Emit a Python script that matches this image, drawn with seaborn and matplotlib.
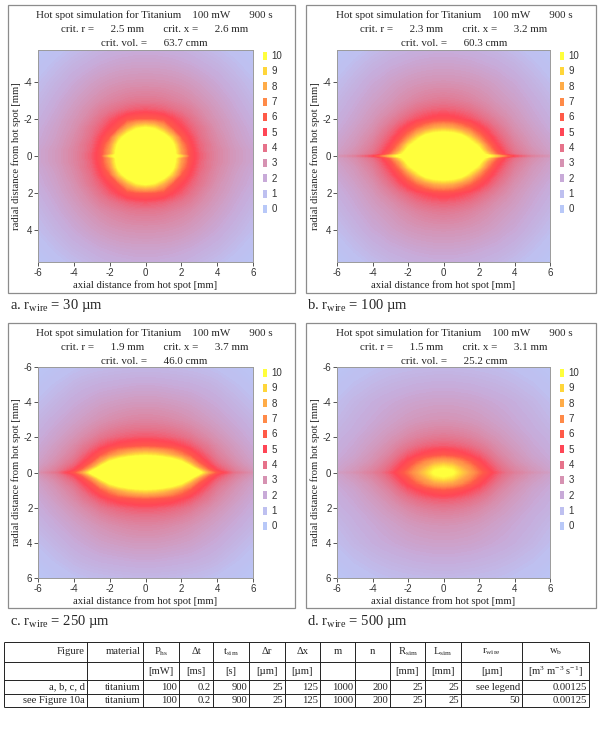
import numpy as np
import matplotlib
matplotlib.use('Agg')
import matplotlib.pyplot as plt
from matplotlib.patches import Patch, Rectangle
import seaborn as sns

sns.set_style('white')
plt.rcParams['font.family'] = ['Liberation Serif', 'DejaVu Serif']
plt.rcParams['mathtext.fontset'] = 'custom'
plt.rcParams['mathtext.rm'] = 'Liberation Serif'
plt.rcParams['mathtext.it'] = 'Liberation Serif:italic'
plt.rcParams['mathtext.default'] = 'rm'
plt.rcParams['axes.unicode_minus'] = False

W, H = 600, 750

# quarter grid (axial x, radial r) in mm, mirrored for the full picture
X_MM = [0, 0.5, 1, 1.5, 2, 2.5, 3, 3.5, 4, 5, 6]
R_MM = [0, 0.1, 0.3, 0.6, 1, 1.5, 2, 2.5, 3, 4, 5, 6]

# estimated level (0..10, saturates above 10); rows = R_MM, cols = X_MM
FIELD_A = [
    [14.0, 13.6, 12.8, 11.0, 9.0, 5.4, 4.5, 3.9, 3.4, 2.7, 2.2],
    [14.0, 13.6, 12.8, 11.0, 7.6, 5.4, 4.5, 3.9, 3.4, 2.7, 2.2],
    [13.8, 13.5, 12.7, 10.9, 7.5, 5.4, 4.4, 3.8, 3.4, 2.7, 2.2],
    [13.4, 13.1, 12.2, 10.4, 7.0, 5.2, 4.3, 3.8, 3.3, 2.6, 2.1],
    [12.6, 12.2, 11.2, 8.8, 6.0, 4.9, 4.1, 3.6, 3.2, 2.5, 2.0],
    [10.2, 9.6, 8.0, 6.0, 5.1, 4.4, 3.9, 3.45, 3.0, 2.4, 1.9],
    [6.0, 5.9, 5.6, 5.0, 4.5, 4.0, 3.55, 3.15, 2.85, 2.25, 1.75],
    [4.6, 4.5, 4.35, 4.1, 3.85, 3.6, 3.25, 2.95, 2.65, 2.1, 1.6],
    [3.8, 3.78, 3.7, 3.55, 3.4, 3.2, 2.95, 2.7, 2.45, 1.95, 1.45],
    [3.0, 2.98, 2.95, 2.88, 2.78, 2.63, 2.45, 2.25, 2.05, 1.6, 1.15],
    [2.35, 2.35, 2.3, 2.25, 2.15, 2.05, 1.9, 1.75, 1.6, 1.2, 0.8],
    [1.8, 1.8, 1.75, 1.7, 1.65, 1.55, 1.4, 1.25, 1.1, 0.8, 0.5],
]
FIELD_B = [
    [15.0, 14.8, 14.0, 13.0, 12.0, 10.5, 8.5, 6.3, 4.8, 3.5, 2.8],
    [14.9, 14.6, 13.8, 12.6, 11.2, 9.0, 6.3, 4.8, 4.0, 3.1, 2.5],
    [14.5, 14.2, 13.3, 12.0, 10.5, 7.6, 5.5, 4.5, 3.8, 3.0, 2.4],
    [13.6, 13.3, 12.4, 11.0, 9.2, 6.5, 5.0, 4.2, 3.6, 2.8, 2.3],
    [12.0, 11.7, 10.8, 9.0, 6.9, 5.4, 4.5, 3.9, 3.35, 2.65, 2.15],
    [8.3, 8.0, 7.2, 6.3, 5.3, 4.6, 4.0, 3.5, 3.05, 2.45, 1.95],
    [5.4, 5.3, 5.0, 4.7, 4.3, 3.9, 3.5, 3.15, 2.8, 2.25, 1.8],
    [4.4, 4.35, 4.2, 4.0, 3.7, 3.4, 3.1, 2.85, 2.6, 2.1, 1.65],
    [3.75, 3.7, 3.6, 3.45, 3.25, 3.05, 2.8, 2.6, 2.4, 1.95, 1.5],
    [2.95, 2.92, 2.88, 2.8, 2.7, 2.55, 2.4, 2.2, 2.05, 1.6, 1.15],
    [2.3, 2.3, 2.25, 2.2, 2.1, 2.0, 1.9, 1.75, 1.6, 1.2, 0.8],
    [1.75, 1.75, 1.7, 1.65, 1.6, 1.5, 1.4, 1.25, 1.1, 0.8, 0.5],
]
FIELD_C = [
    [15.0, 15.0, 14.6, 14.0, 13.0, 12.0, 10.6, 7.6, 5.6, 3.9, 3.0],
    [14.9, 14.9, 14.5, 13.8, 12.7, 11.5, 9.6, 6.6, 5.0, 3.6, 2.8],
    [14.3, 14.2, 13.8, 13.0, 11.8, 10.3, 7.4, 5.5, 4.5, 3.4, 2.6],
    [12.8, 12.7, 12.2, 11.3, 10.0, 7.8, 5.8, 4.8, 4.0, 3.1, 2.4],
    [9.4, 9.2, 8.7, 7.9, 6.9, 5.8, 4.9, 4.2, 3.6, 2.85, 2.25],
    [5.9, 5.8, 5.6, 5.4, 5.0, 4.6, 4.1, 3.7, 3.25, 2.6, 2.05],
    [4.6, 4.55, 4.45, 4.3, 4.1, 3.85, 3.5, 3.2, 2.9, 2.35, 1.9],
    [3.9, 3.88, 3.82, 3.7, 3.55, 3.35, 3.1, 2.85, 2.6, 2.15, 1.7],
    [3.4, 3.38, 3.32, 3.22, 3.1, 2.95, 2.75, 2.55, 2.35, 1.95, 1.55],
    [2.7, 2.7, 2.65, 2.58, 2.5, 2.4, 2.25, 2.1, 1.95, 1.55, 1.15],
    [2.05, 2.05, 2.0, 1.95, 1.9, 1.85, 1.75, 1.65, 1.5, 1.15, 0.8],
    [1.4, 1.4, 1.38, 1.35, 1.3, 1.25, 1.2, 1.1, 1.0, 0.75, 0.45],
]
FIELD_D = [
    [10.6, 10.1, 8.8, 7.6, 6.4, 5.4, 4.6, 4.0, 3.6, 3.0, 2.5],
    [10.4, 9.9, 8.6, 7.4, 6.2, 5.2, 4.4, 3.85, 3.45, 2.8, 2.3],
    [9.6, 9.2, 8.0, 7.0, 5.8, 4.9, 4.2, 3.7, 3.3, 2.7, 2.2],
    [8.0, 7.7, 7.0, 6.1, 5.2, 4.5, 3.9, 3.45, 3.05, 2.5, 2.1],
    [5.8, 5.6, 5.3, 4.9, 4.5, 4.0, 3.5, 3.15, 2.85, 2.3, 1.95],
    [4.5, 4.45, 4.3, 4.1, 3.8, 3.5, 3.15, 2.85, 2.6, 2.15, 1.8],
    [3.8, 3.75, 3.65, 3.5, 3.3, 3.05, 2.85, 2.6, 2.4, 2.0, 1.7],
    [3.3, 3.27, 3.2, 3.1, 2.95, 2.75, 2.55, 2.4, 2.2, 1.85, 1.55],
    [2.9, 2.88, 2.82, 2.74, 2.64, 2.5, 2.36, 2.2, 2.05, 1.75, 1.4],
    [2.4, 2.4, 2.36, 2.32, 2.24, 2.14, 2.04, 1.94, 1.8, 1.5, 1.15],
    [1.9, 1.9, 1.85, 1.82, 1.75, 1.68, 1.6, 1.5, 1.4, 1.15, 0.85],
    [1.35, 1.35, 1.33, 1.3, 1.27, 1.22, 1.17, 1.1, 1.0, 0.8, 0.5],
]

PANEL_LETTERS = ['a', 'b', 'c', 'd']
R_WIRE_UM = [30, 100, 250, 500]
CRIT_R = [2.5, 2.3, 1.9, 1.5]
CRIT_X = [2.6, 3.2, 3.7, 3.1]
CRIT_VOL = [63.7, 60.3, 46.0, 25.2]
LEVELS = [10, 9, 8, 7, 6, 5, 4, 3, 2, 1, 0]
LEVEL_COLORS = ['#ffff3c', '#ffd63a', '#ffac48', '#ff8a48', '#ff5a48', '#ff4656',
                '#e6728a', '#d692b2', '#c8aad8', '#bec0f0', '#b8c8f8']

# table
TABLE_HEADER = ['Figure', 'material', r'P$_{\mathrm{hs}}$', 'Δt', r't$_{\mathrm{sim}}$', 'Δr', 'Δx',
                'm', 'n', r'R$_{\mathrm{sim}}$', r'L$_{\mathrm{sim}}$', r'r$_{\mathrm{wire}}$', r'w$_{\mathrm{b}}$']
TABLE_UNITS = ['', '', '[mW]', '[ms]', '[s]', '[µm]', '[µm]', '', '', '[mm]', '[mm]', '[µm]',
               r'[m$^{3}$ m$^{-3}$ s$^{-1}$]']
TABLE_ROWS = [
    ['a, b, c, d', 'titanium', '100', '0.2', '900', '25', '125', '1000', '200', '25', '25', 'see legend', '0.00125'],
    ['see Figure 10a', 'titanium', '100', '0.2', '900', '25', '125', '1000', '200', '25', '25', '50', '0.00125'],
]

heat_cmap = sns.blend_palette(LEVEL_COLORS[::-1], as_cmap=True).with_extremes(
    over=LEVEL_COLORS[0], under=LEVEL_COLORS[-1])


def px_rect(l, t, r, b):
    return [l / W, 1 - b / H, (r - l) / W, (b - t) / H]


def mirror(q):
    q = np.asarray(q, dtype=float)
    rows = np.vstack([q[:0:-1], q])
    return np.hstack([rows[:, :0:-1], rows])


xq = np.asarray(X_MM)
rq = np.asarray(R_MM)
x_full = np.concatenate([-xq[:0:-1], xq])
r_full = np.concatenate([-rq[:0:-1], rq])

fig = plt.figure(figsize=(6, 7.5), dpi=100)
fig.patch.set_facecolor('white')

fields = [FIELD_A, FIELD_B, FIELD_C, FIELD_D]
boxes = [(8, 5, 295, 293), (306, 5, 596, 293), (8, 323, 295, 608), (306, 323, 596, 608)]
plots = [(38, 50, 253, 262), (337, 50, 550, 262), (38, 367, 253, 578), (337, 367, 550, 578)]
captions_xy = [(10, 305), (307, 305), (10, 621), (307, 621)]

for i in range(4):
    bl, bt, br, bb = boxes[i]
    fig.patches.append(Rectangle((bl / W, 1 - bb / H), (br - bl) / W, (bb - bt) / H,
                                 transform=fig.transFigure, fill=False,
                                 edgecolor='#8c8c8c', lw=0.9))
    cx = (bl + br) / 2 + 3
    fig.text(cx / W, 1 - (bt + 10) / H, 'Hot spot simulation for Titanium    100 mW       900 s',
             ha='center', va='center', fontsize=7.9)
    fig.text(cx / W, 1 - (bt + 24) / H,
             f'crit. r =      {CRIT_R[i]:.1f} mm       crit. x =      {CRIT_X[i]:.1f} mm',
             ha='center', va='center', fontsize=7.9)
    fig.text(cx / W, 1 - (bt + 38) / H, f'crit. vol. =      {CRIT_VOL[i]:.1f} cmm',
             ha='center', va='center', fontsize=7.9)

    ax = fig.add_axes(px_rect(*plots[i]))
    ax.contourf(x_full, r_full, mirror(fields[i]), levels=np.linspace(0, 10, 101),
                cmap=heat_cmap, extend='both', antialiased=False)
    ax.set_xlim(-6, 6)
    if i < 2:
        ax.set_ylim(5.75, -5.75)
        ax.set_yticks([-4, -2, 0, 2, 4])
    else:
        ax.set_ylim(6, -6)
        ax.set_yticks([-6, -4, -2, 0, 2, 4, 6])
    ax.set_xticks([-6, -4, -2, 0, 2, 4, 6])
    ax.tick_params(direction='out', length=3, width=0.7, color='#555555',
                   labelsize=7, labelcolor='#333333', pad=1,
                   labelfontfamily='Liberation Sans', bottom=True, left=True)
    for s in ax.spines.values():
        s.set_color('#9a9a9a')
        s.set_linewidth(0.7)
    ax.set_xlabel('axial distance from hot spot [mm]', fontsize=7.7, labelpad=2)
    ax.set_ylabel('radial distance from hot spot [mm]', fontsize=7.7, labelpad=2)

    handles = [Patch(facecolor=c, edgecolor='none') for c in LEVEL_COLORS]
    leg = ax.legend(handles, [str(v) for v in LEVELS], loc='upper left',
                    bbox_to_anchor=((plots[i][2] + 10) / W, 1 - (plots[i][1] + 1) / H),
                    bbox_transform=fig.transFigure, frameon=False, fontsize=7,
                    handlelength=0.4, handleheight=0.9, handletextpad=0.5,
                    labelspacing=0.55, borderpad=0, borderaxespad=0)
    for t in leg.get_texts():
        t.set_fontfamily('Liberation Sans')
        t.set_color('#333333')

    fig.text(captions_xy[i][0] / W, 1 - captions_xy[i][1] / H,
             f'{PANEL_LETTERS[i]}. r$_{{\\mathrm{{wire}}}}$ = {R_WIRE_UM[i]} µm',
             ha='left', va='center', fontsize=10.5)

# parameter table below the panels
tab = fig.add_axes([0, 0, 1, 1])
tab.set_xlim(0, W)
tab.set_ylim(H, 0)
tab.axis('off')
col_edges = [4, 87, 143, 179, 213, 249, 285, 320, 355, 390, 425, 461, 522, 589]
row_edges = [642, 662, 680, 694, 707]
tab.hlines(row_edges, col_edges[0], col_edges[-1], color='#222222', lw=0.7)
tab.vlines(col_edges, row_edges[0], row_edges[-1], color='#222222', lw=0.7)

for j, label in enumerate(TABLE_HEADER):
    l, r = col_edges[j], col_edges[j + 1]
    if j < 2:
        tab.text(r - 2, 652, label, ha='right', va='center', fontsize=7.7)
    else:
        tab.text((l + r) / 2, 652, label, ha='center', va='center', fontsize=7.7)
for j, label in enumerate(TABLE_UNITS):
    l, r = col_edges[j], col_edges[j + 1]
    if label:
        tab.text((l + r) / 2, 671.5, label, ha='center', va='center', fontsize=7.7)
for k, row in enumerate(TABLE_ROWS):
    yc = (row_edges[k + 2] + row_edges[k + 3]) / 2
    for j, val in enumerate(row):
        tab.text(col_edges[j + 1] - 2, yc, val, ha='right', va='center', fontsize=7.7)

fig.savefig('out.png', dpi=100, facecolor='white')
